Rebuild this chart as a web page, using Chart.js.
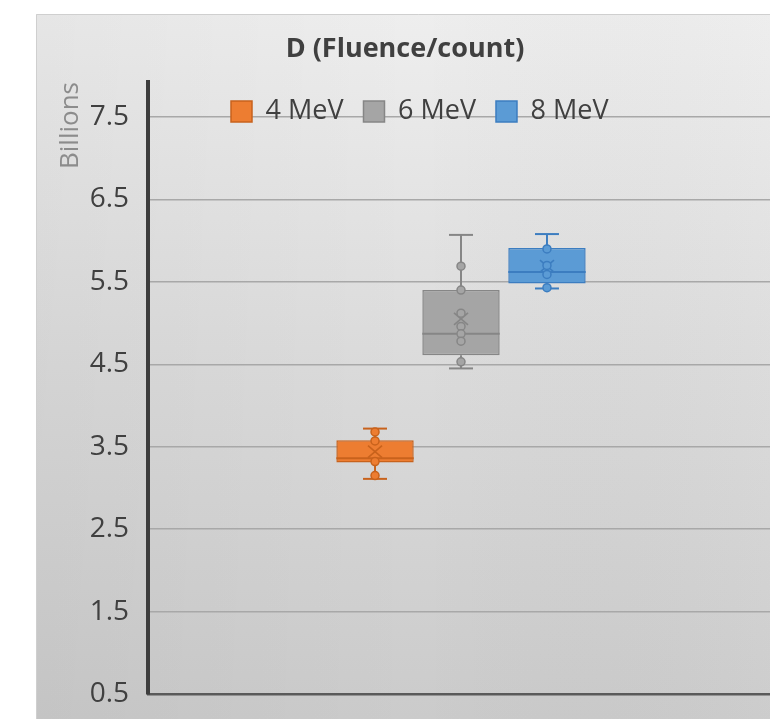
<!DOCTYPE html>
<html>
<head>
<meta charset="utf-8">
<title>D (Fluence/count)</title>
<script src="https://cdn.jsdelivr.net/npm/chart.js@4.4.1/dist/chart.umd.min.js"></script>
<style>
  html, body { margin: 0; padding: 0; background: #ffffff; overflow: hidden; width: 770px; height: 719px; }
  #wrap { position: absolute; left: 36px; top: 14px; width: 764px; height: 705px; }
  canvas { display: block; }
</style>
</head>
<body>
<div id="wrap"><canvas id="chart" width="764" height="705"></canvas></div>
<script>
// Beam energies (one box per energy)
const categories = ['4 MeV', '6 MeV', '8 MeV'];

// Five-number summaries and means, in billions
const whiskerLow  = [3.11, 4.45, 5.42];
const quartile1   = [3.31, 4.61, 5.48];
const medians     = [3.36, 4.87, 5.62];
const quartile3   = [3.58, 5.40, 5.91];
const whiskerHigh = [3.72, 6.07, 6.08];
const means       = [3.44, 5.05, 5.69];

// Individual measurements shown inside the whiskers
const points4MeV = [3.68, 3.57, 3.32, 3.15];
const points6MeV = [5.69, 5.40, 5.12, 4.96, 4.87, 4.78, 4.53];
const points8MeV = [5.90, 5.70, 5.59, 5.43];
const innerPoints = [points4MeV, points6MeV, points8MeV];

// Value-axis tick labels
const yTicks = [0.5, 1.5, 2.5, 3.5, 4.5, 5.5, 6.5, 7.5];

const fills = ['#ED7D31', '#A5A5A5', '#5B9BD5'];
const edges = ['#C8621C', '#868686', '#3C7DC0'];
const FONT = "'Open Sans', 'DejaVu Sans', sans-serif";

// Soft grey panel behind the whole chart
const panel = {
  id: 'panel',
  beforeDraw(chart) {
    const { ctx, width, height } = chart;
    ctx.save();
    const g = ctx.createLinearGradient(0, 0, 0, height);
    g.addColorStop(0, '#eeeeee');
    g.addColorStop(0.5, '#dbdbdb');
    g.addColorStop(1, '#cbcbcb');
    ctx.fillStyle = g;
    ctx.fillRect(0, 0, width, height);
    const h = ctx.createLinearGradient(0, 0, width, 0);
    h.addColorStop(0, 'rgba(0,0,0,0.035)');
    h.addColorStop(0.5, 'rgba(0,0,0,0)');
    h.addColorStop(1, 'rgba(255,255,255,0.05)');
    ctx.fillStyle = h;
    ctx.fillRect(0, 0, width, height);
    ctx.strokeStyle = '#cfcfcf';
    ctx.lineWidth = 1;
    ctx.beginPath();
    ctx.moveTo(0.5, height);
    ctx.lineTo(0.5, 0.5);
    ctx.lineTo(width, 0.5);
    ctx.stroke();
    ctx.restore();
  }
};

// Legend floats over the top of the plot instead of taking its own band
const legendOverlay = {
  id: 'legendOverlay',
  beforeLayout(chart) {
    const lg = chart.legend;
    if (lg && !lg._overlayFit) {
      const fit = lg.fit;
      lg.fit = function () {
        fit.call(this);
        this._rowHeight = this.height;
        this.height = 0;
      };
      lg._overlayFit = true;
    }
  },
  afterLayout(chart) {
    const lg = chart.legend;
    if (!lg) return;
    lg.left = 175;
    lg.right = chart.width;
    lg.width = lg.right - lg.left;
    lg.top = 64;
    lg.height = lg._rowHeight || 60;
    lg.bottom = lg.top + lg.height;
  }
};

// Whiskers, caps, median, mean marker and inner points for each box
const boxDetails = {
  id: 'boxDetails',
  afterDatasetsDraw(chart) {
    const { ctx } = chart;
    const y = chart.scales.y;
    const seg = (x1, y1, x2, y2) => { ctx.beginPath(); ctx.moveTo(x1, y1); ctx.lineTo(x2, y2); ctx.stroke(); };
    chart.data.datasets.forEach((ds, i) => {
      const bar = chart.getDatasetMeta(i).data[0];
      const cx = bar.x;
      const half = bar.width / 2;
      const capHalf = 12;
      ctx.save();
      ctx.strokeStyle = edges[i];
      ctx.lineWidth = 2;
      const yHi = y.getPixelForValue(whiskerHigh[i]);
      const yLo = y.getPixelForValue(whiskerLow[i]);
      seg(cx, y.getPixelForValue(quartile3[i]), cx, yHi);
      seg(cx, y.getPixelForValue(quartile1[i]), cx, yLo);
      seg(cx - capHalf, yHi, cx + capHalf, yHi);
      seg(cx - capHalf, yLo, cx + capHalf, yLo);
      const yMed = y.getPixelForValue(medians[i]);
      seg(cx - half, yMed, cx + half, yMed);
      // mean marker
      ctx.lineWidth = 1.6;
      const yMean = y.getPixelForValue(means[i]);
      seg(cx - 7, yMean - 6, cx + 7, yMean + 6);
      seg(cx - 7, yMean + 6, cx + 7, yMean - 6);
      // inner points
      ctx.lineWidth = 1.5;
      ctx.fillStyle = fills[i];
      innerPoints[i].forEach(v => {
        ctx.beginPath();
        ctx.arc(cx, y.getPixelForValue(v), 4, 0, Math.PI * 2);
        ctx.fill();
        ctx.stroke();
      });
      ctx.restore();
    });
  }
};

new Chart(document.getElementById('chart'), {
  type: 'bar',
  data: {
    labels: [''],
    datasets: categories.map((name, i) => ({
      label: name,
      data: [[quartile1[i], quartile3[i]]],
      backgroundColor: fills[i],
      borderColor: edges[i],
      borderWidth: 1.5,
      borderSkipped: false,
      categoryPercentage: 0.412,
      barPercentage: 0.9
    }))
  },
  options: {
    responsive: false,
    animation: false,
    devicePixelRatio: 1,
    events: [],
    layout: { padding: { left: 0, right: 26, top: 0, bottom: 0 } },
    plugins: {
      tooltip: { enabled: false },
      title: {
        display: true,
        text: 'D (Fluence/count)',
        color: '#404040',
        font: { family: FONT, size: 27, weight: 'bold' },
        padding: { top: 19, bottom: 16.6 }
      },
      legend: {
        display: true,
        position: 'top',
        align: 'start',
        labels: {
          boxWidth: 21,
          boxHeight: 21,
          padding: 20,
          color: '#404040',
          font: { family: FONT, size: 27 }
        }
      }
    },
    scales: {
      x: {
        type: 'category',
        ticks: { display: false },
        grid: { display: false, drawTicks: false },
        border: { display: true, color: '#5a5a5a', width: 2.5 },
        afterFit(scale) { scale.height = 25; }
      },
      y: {
        type: 'linear',
        min: 0.5,
        max: 7.925,
        afterBuildTicks(scale) { scale.ticks = yTicks.map(v => ({ value: v })); },
        afterFit(scale) {
          scale.width = 112;
          scale.paddingTop = 0;
          scale.paddingBottom = 0;
        },
        ticks: {
          color: '#404040',
          padding: 19,
          font: { family: FONT, size: 28 },
          callback: v => Number(v).toFixed(1)
        },
        grid: { color: '#a8a8a8', lineWidth: 1.5, drawTicks: false },
        border: { display: true, color: '#3d3d3d', width: 4 },
        title: {
          display: true,
          text: 'Billions',
          align: 'end',
          color: '#8c8c8c',
          font: { family: FONT, size: 26 },
          padding: { top: 19.4, bottom: 0 }
        }
      }
    }
  },
  plugins: [panel, legendOverlay, boxDetails]
});
</script>
</body>
</html>
